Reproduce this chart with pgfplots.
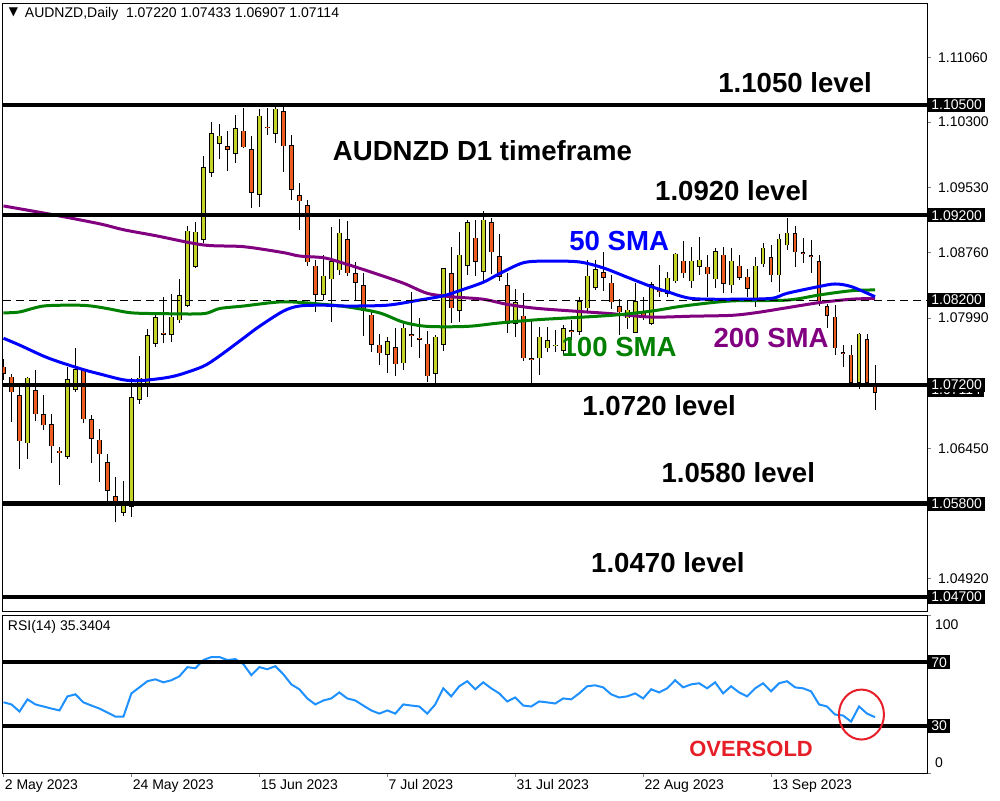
\documentclass[border=0pt]{standalone}
\usepackage{fontspec}
\setmainfont{Liberation Sans}
\newfontfamily\symfont{DejaVu Sans}
\usepackage{pgfplots}
\usepackage{pgfplotstable}
\pgfplotsset{compat=1.18}

\definecolor{bull}{RGB}{197,211,41}
\definecolor{bear}{RGB}{238,92,32}
\definecolor{smablue}{RGB}{0,0,255}
\definecolor{smagreen}{RGB}{0,128,0}
\definecolor{smapurple}{RGB}{128,0,128}
\definecolor{rsiblue}{RGB}{30,144,255}
\definecolor{oversold}{RGB}{230,30,40}

% daily candles, i = trading day counted from 2 May 2023
\pgfplotstableread{
i O H L C
0 1.0741 1.0750 1.0726 1.0734
1 1.0729 1.0733 1.0676 1.0712
2 1.0707 1.0718 1.0621 1.0654
3 1.0652 1.0729 1.0633 1.0728
4 1.0713 1.0738 1.0677 1.0686
5 1.0685 1.0708 1.0667 1.0673
6 1.0673 1.0686 1.0628 1.0648
7 1.0642 1.0647 1.0602 1.0640
8 1.0636 1.0741 1.0633 1.0726
9 1.0715 1.0764 1.0712 1.0738
10 1.0738 1.0740 1.0675 1.0680
11 1.0679 1.0685 1.0628 1.0657
12 1.0655 1.0668 1.0606 1.0639
13 1.0628 1.0639 1.0583 1.0596
14 1.0588 1.0611 1.0558 1.0582
15 1.0570 1.0607 1.0565 1.0578
16 1.0577 1.0728 1.0564 1.0705
17 1.0703 1.0754 1.0698 1.0728
18 1.0720 1.0786 1.0706 1.0778
19 1.0769 1.0802 1.0765 1.0799
20 1.0781 1.0824 1.0769 1.0780
21 1.0780 1.0827 1.0771 1.0800
22 1.0797 1.0845 1.0793 1.0825
23 1.0814 1.0907 1.0812 1.0901
24 1.0860 1.0912 1.0858 1.0900
25 1.0892 1.0990 1.0887 1.0976
26 1.0971 1.1030 1.0965 1.1016
27 1.1005 1.1028 1.0986 1.1013
28 1.1001 1.1019 1.0972 1.0998
29 1.0993 1.1038 1.0982 1.1022
30 1.1019 1.1047 1.0999 1.1001
31 1.0997 1.1013 1.0929 1.0947
32 1.0945 1.1045 1.0930 1.1037
33 1.1024 1.1046 1.1015 1.1023
34 1.1017 1.1049 1.1005 1.1045
35 1.1042 1.1048 1.0971 1.1002
36 1.1002 1.1015 1.0938 1.0951
37 1.0943 1.0958 1.0903 1.0937
38 1.0931 1.0938 1.0860 1.0865
39 1.0860 1.0867 1.0806 1.0827
40 1.0827 1.0873 1.0820 1.0848
41 1.0845 1.0906 1.0794 1.0865
42 1.0856 1.0916 1.0850 1.0899
43 1.0891 1.0913 1.0848 1.0852
44 1.0851 1.0865 1.0820 1.0841
45 1.0837 1.0852 1.0778 1.0808
46 1.0802 1.0808 1.0759 1.0768
47 1.0767 1.0780 1.0743 1.0758
48 1.0756 1.0776 1.0734 1.0771
49 1.0764 1.0787 1.0731 1.0745
50 1.0746 1.0793 1.0738 1.0787
51 1.0779 1.0830 1.0765 1.0778
52 1.0775 1.0799 1.0752 1.0774
53 1.0768 1.0784 1.0723 1.0731
54 1.0734 1.0779 1.0722 1.0776
55 1.0768 1.0858 1.0760 1.0857
56 1.0851 1.0883 1.0793 1.0811
57 1.0808 1.0900 1.0794 1.0873
58 1.0861 1.0914 1.0850 1.0911
59 1.0893 1.0914 1.0848 1.0866
60 1.0854 1.0925 1.0843 1.0914
61 1.0911 1.0917 1.0851 1.0877
62 1.0871 1.0898 1.0843 1.0848
63 1.0837 1.0852 1.0781 1.0793
64 1.0793 1.0833 1.0776 1.0817
65 1.0801 1.0828 1.0748 1.0752
66 1.0751 1.0798 1.0722 1.0750
67 1.0752 1.0788 1.0732 1.0776
68 1.0764 1.0788 1.0759 1.0772
69 1.0766 1.0785 1.0759 1.0767
70 1.0761 1.0791 1.0755 1.0786
71 1.0784 1.0797 1.0773 1.0783
72 1.0783 1.0824 1.0779 1.0818
73 1.0811 1.0867 1.0807 1.0848
74 1.0835 1.0867 1.0832 1.0856
75 1.0852 1.0877 1.0831 1.0847
76 1.0840 1.0850 1.0810 1.0818
77 1.0812 1.0821 1.0779 1.0806
78 1.0799 1.0820 1.0786 1.0808
79 1.0782 1.0840 1.0781 1.0818
80 1.0805 1.0824 1.0797 1.0800
81 1.0793 1.0841 1.0791 1.0838
82 1.0833 1.0861 1.0824 1.0830
83 1.0828 1.0853 1.0824 1.0846
84 1.0843 1.0876 1.0840 1.0874
85 1.0866 1.0890 1.0846 1.0852
86 1.0843 1.0883 1.0834 1.0866
87 1.0860 1.0894 1.0850 1.0867
88 1.0859 1.0873 1.0824 1.0851
89 1.0845 1.0881 1.0834 1.0877
90 1.0873 1.0883 1.0828 1.0840
91 1.0838 1.0881 1.0828 1.0866
92 1.0860 1.0873 1.0844 1.0847
93 1.0847 1.0857 1.0824 1.0834
94 1.0821 1.0871 1.0812 1.0860
95 1.0863 1.0887 1.0859 1.0881
96 1.0870 1.0885 1.0841 1.0850
97 1.0850 1.0898 1.0830 1.0892
98 1.0885 1.0917 1.0879 1.0899
99 1.0898 1.0907 1.0859 1.0877
100 1.0876 1.0893 1.0864 1.0875
101 1.0872 1.0891 1.0852 1.0871
102 1.0865 1.0873 1.0813 1.0819
103 1.0812 1.0815 1.0787 1.0802
104 1.0800 1.0814 1.0755 1.0764
105 1.0758 1.0767 1.0741 1.0757
106 1.0755 1.0767 1.0722 1.0723
107 1.0723 1.0781 1.0715 1.0780
108 1.0773 1.0780 1.0722 1.0723
109 1.07220 1.07433 1.06907 1.07114
}\candles

\pgfplotstableread{
i v
0 1.0775
2 1.0767
5 1.0754
7 1.0747
10 1.0738
12 1.0733
15 1.0726
17 1.0725
20 1.0728
22 1.0732
25 1.0742
27 1.0754
30 1.0775
32 1.0789
35 1.0807
37 1.0813
40 1.0814
43 1.0813
48 1.0814
52 1.0820
55 1.0825
57 1.0831
60 1.0841
62 1.0851
65 1.0864
68 1.0866
72 1.0865
75 1.0858
78 1.0847
81 1.0836
83 1.0830
86 1.0822
91 1.0821
96 1.0822
98 1.0828
102 1.0836
104 1.0839
106 1.0836
109 1.0824
}\smafifty

\pgfplotstableread{
i v
0 1.0805
2 1.0806
5 1.0813
9 1.0814
11 1.0813
13 1.0810
16 1.0805
20 1.0804
25 1.0804
27 1.0810
30 1.0813
35 1.0818
40 1.0815
43 1.0812
47 1.0805
50 1.0794
53 1.0789
58 1.0789
62 1.0793
67 1.0797
76 1.0802
81 1.0807
85 1.0813
91 1.0819
98 1.0820
102 1.0826
106 1.0831
109 1.0832
}\smahundred

\pgfplotstableread{
i v
0 1.0931
6 1.0921
12 1.0910
15 1.0903
19 1.0896
25 1.0885
30 1.0883
35 1.0876
37 1.0872
40 1.0870
42 1.0865
46 1.0853
50 1.0840
53 1.0828
56 1.0824
60 1.0821
63 1.0815
67 1.0810
76 1.0804
81 1.0800
86 1.0801
91 1.0802
94 1.0805
98 1.0811
102 1.0817
106 1.0821
109 1.0822
}\smatwohundred

\pgfplotstableread{
i r
0 44.8
1 43.4
2 38.9
3 46.6
4 43.4
5 42.1
6 40.8
7 39.6
8 48.5
9 49.8
10 44.7
11 42.7
12 40.8
13 38.3
14 35.7
15 35.7
16 50.4
17 54.2
18 58.1
19 59.3
20 57.4
21 58.7
22 61.2
23 67.0
24 66.3
25 71.5
26 73.4
27 73.4
28 71.5
29 72.1
30 68.9
31 61.9
32 67.0
33 65.7
34 67.6
35 62.5
36 56.1
37 53.0
38 47.2
39 43.4
40 45.9
41 47.2
42 51.0
43 47.2
44 45.9
45 42.7
46 39.6
47 37.6
48 39.6
49 37.6
50 43.4
51 42.7
52 42.1
53 37.6
54 43.4
55 53.6
56 48.5
57 54.9
58 58.1
59 53.0
60 57.4
61 53.6
62 50.4
63 45.3
64 47.8
65 42.7
66 42.1
67 45.3
68 44.7
69 44.0
70 47.2
71 46.6
72 50.4
73 54.9
74 55.5
75 54.2
76 49.8
77 47.8
78 48.5
79 50.4
80 47.2
81 53.0
82 51.0
83 53.6
84 58.7
85 54.2
86 56.1
87 56.8
88 53.6
89 57.4
90 50.4
91 54.9
92 51.0
93 48.5
94 53.6
95 56.8
96 51.7
97 56.8
98 58.1
99 54.2
100 53.6
101 51.7
102 43.4
103 42.1
104 37.0
105 36.4
106 32.5
107 42.1
108 37.6
109 35.34
}\rsi

\tikzset{
  smalltxt/.style={font=\fontsize{7}{8}\selectfont},
  pricelbl/.style={fill=black, text=white, smalltxt, inner xsep=1.5pt, inner ysep=1pt, anchor=west, xshift=0.5pt},
  lvl/.style={font=\bfseries\fontsize{13.8}{16}\selectfont},
}
\pgfplotsset{
  wick/.style={only marks, mark=text, text mark={}, error bars/.cd, y dir=plus, y explicit, error mark=none,
    error bar style={line width=0.5pt, black}},
  body/.style={only marks, mark=text, text mark={}, error bars/.cd, y dir=plus, y explicit, error mark=none,
    error bar style={line width=#1}},
}

\begin{document}
\begin{tikzpicture}
\useasboundingbox (0,0) rectangle (500pt,400pt);

\begin{axis}[
  at={(1.5pt,94.5pt)}, anchor=south west,
  scale only axis, width=462pt, height=304pt,
  xmin=-0.06, xmax=115.5, ymin=1.04534, ymax=1.11703,
  xtick=\empty,
  ytick={1.0492,1.0645,1.0799,1.0876,1.0953,1.1030,1.1106},
  yticklabels={1.04920,1.06450,1.07990,1.08760,1.09530,1.10300,1.11060},
  ytick pos=right, yticklabel pos=right, tick align=outside, major tick length=2pt,
  yticklabel style={font=\fontsize{7}{8}\selectfont},
  axis line style={line width=0.5pt},
  clip mode=individual,
  unbounded coords=discard,
]
% candles: wick, black outline, coloured body
\addplot[wick] table[x=i, y=L, y error plus expr=\thisrow{H}-\thisrow{L}] {\candles};
\addplot[body=2.4pt, error bar style={black}] table[x=i,
  y expr={min(\thisrow{O},\thisrow{C})-0.00006},
  y error plus expr={abs(\thisrow{C}-\thisrow{O})+0.00012}] {\candles};
\addplot[restrict expr to domain={\thisrow{C}-\thisrow{O}}{0:1}, body=1.4pt, error bar style={bull}]
  table[x=i, y=O, y error plus expr=\thisrow{C}-\thisrow{O}] {\candles};
\addplot[restrict expr to domain={\thisrow{O}-\thisrow{C}}{0:1}, body=1.4pt, error bar style={bear}]
  table[x=i, y=C, y error plus expr=\thisrow{O}-\thisrow{C}] {\candles};

% moving averages
\addplot[smapurple, line width=1.5pt, smooth] table[x=i, y=v] {\smatwohundred};
\addplot[smagreen, line width=1.5pt, smooth] table[x=i, y=v] {\smahundred};
\addplot[smablue, line width=1.5pt, smooth] table[x=i, y=v] {\smafifty};

% levels
\addplot[black, line width=0.5pt, dash pattern=on 4pt off 2.5pt] coordinates {(-0.06,1.082) (115.5,1.082)};
\addplot[black, line width=2.2pt] coordinates {(-0.06,1.105) (115.5,1.105)};
\addplot[black, line width=2.2pt] coordinates {(-0.06,1.092) (115.5,1.092)};
\addplot[black, line width=2.2pt] coordinates {(-0.06,1.072) (115.5,1.072)};
\addplot[black, line width=2.2pt] coordinates {(-0.06,1.058) (115.5,1.058)};
\addplot[black, line width=2.2pt] coordinates {(-0.06,1.047) (115.5,1.047)};

\node[lvl] at (axis cs:99,1.1076) {1.1050 level};
\node[lvl] at (axis cs:59.9,1.0996) {AUDNZD D1 timeframe};
\node[lvl] at (axis cs:91.1,1.0949) {1.0920 level};
\node[lvl, text=smablue] at (axis cs:77,1.0890) {50 SMA};
\node[lvl, text=smagreen] at (axis cs:77,1.0765) {100 SMA};
\node[lvl, text=smapurple] at (axis cs:96,1.0775) {200 SMA};
\node[lvl] at (axis cs:82,1.0695) {1.0720 level};
\node[lvl] at (axis cs:91.9,1.0616) {1.0580 level};
\node[lvl] at (axis cs:83.1,1.0510) {1.0470 level};

\node[pricelbl] at (axis cs:115.5,1.105) {1.10500};
\node[pricelbl] at (axis cs:115.5,1.092) {1.09200};
\node[pricelbl] at (axis cs:115.5,1.082) {1.08200};
\node[pricelbl] at (axis cs:115.5,1.0714) {1.07114};
\node[pricelbl] at (axis cs:115.5,1.072) {1.07200};
\node[pricelbl] at (axis cs:115.5,1.058) {1.05800};
\node[pricelbl] at (axis cs:115.5,1.047) {1.04700};

\node[font=\symfont\fontsize{6}{7}\selectfont, inner sep=0pt] at (rel axis cs:0.0114,0.9852) {▼};
\node[smalltxt, anchor=west, inner sep=0pt] at (rel axis cs:0.0233,0.982) {AUDNZD,Daily\ \ 1.07220 1.07433 1.06907 1.07114};
\end{axis}

\begin{axis}[
  at={(1.5pt,13.5pt)}, anchor=south west,
  scale only axis, width=462pt, height=79pt,
  xmin=-0.06, xmax=115.5, ymin=0, ymax=100,
  xtick={0,16,32,48,64,80,96},
  xticklabels={2 May 2023,24 May 2023,15 Jun 2023,7 Jul 2023,31 Jul 2023,22 Aug 2023,13 Sep 2023},
  xtick pos=bottom, xticklabel style={font=\fontsize{7}{8}\selectfont, anchor=north west, inner xsep=0.5pt, inner ysep=1pt},
  ytick={0,100}, yticklabel=\empty, ytick pos=right,
  tick align=outside, major tick length=2pt,
  axis line style={line width=0.5pt},
  clip mode=individual,
]
\addplot[rsiblue, line width=1pt] table[x=i, y=r] {\rsi};
\addplot[black, line width=2pt] coordinates {(-0.06,70) (115.5,70)};
\addplot[black, line width=2pt] coordinates {(-0.06,30) (115.5,30)};

\node[pricelbl] at (axis cs:115.5,70) {70};
\node[pricelbl] at (axis cs:115.5,30) {30};
\node[smalltxt, anchor=west, xshift=0.5pt] at (axis cs:115.5,93.8) {100};
\node[smalltxt, anchor=west, xshift=0.5pt] at (axis cs:115.5,6.4) {0};
\node[smalltxt, anchor=west, inner sep=0pt] at (rel axis cs:0.0049,0.924) {RSI(14) 35.3404};

\draw[oversold, line width=1pt] (axis cs:107.3,37) ellipse [x radius=11.25pt, y radius=12.5pt];
\node[font=\bfseries\fontsize{11}{13}\selectfont, text=oversold] at (axis cs:93.5,15.3) {OVERSOLD};
\end{axis}
\end{tikzpicture}
\end{document}
